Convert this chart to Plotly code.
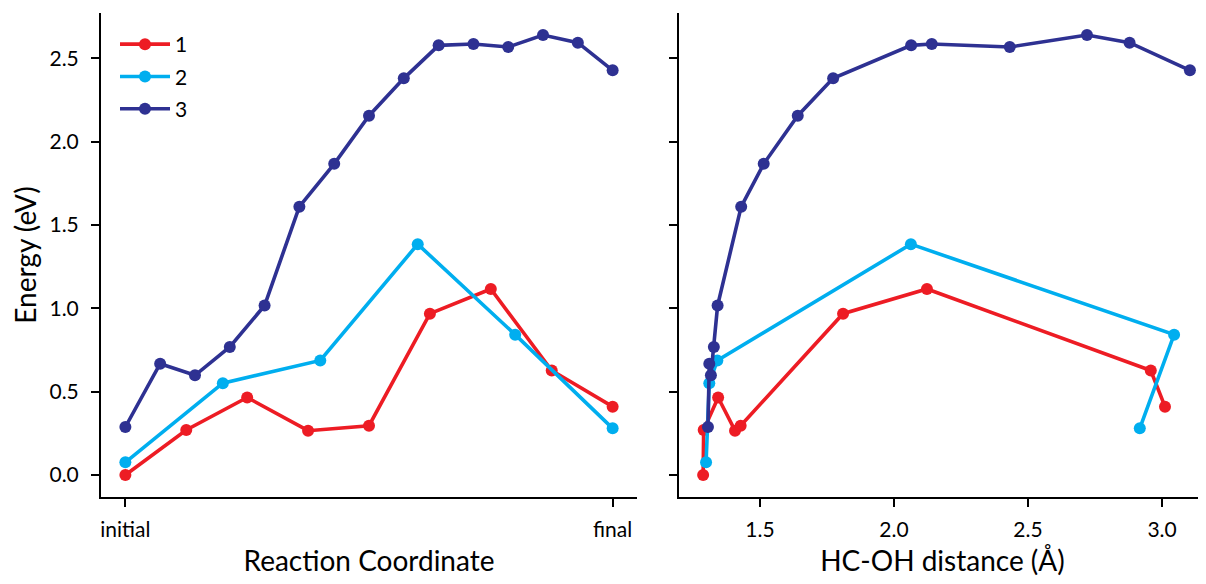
import plotly.graph_objects as go

# ---- data ----
names = ["1", "2", "3"]
colors = ["#ED1C24", "#00AEEF", "#2E3192"]

# Reaction coordinate (0 = initial, 1 = final)
rc1 = [0.0, 0.125, 0.25, 0.375, 0.5, 0.625, 0.75, 0.875, 1.0]
rc2 = [0.0, 0.2, 0.4, 0.6, 0.8, 1.0]
rc3 = [0.0, 0.0714, 0.1429, 0.2143, 0.2857, 0.3571, 0.4286, 0.5,
       0.5714, 0.6429, 0.7143, 0.7857, 0.8571, 0.9286, 1.0]

# Energies (eV)
e1 = [0.0, 0.27, 0.465, 0.266, 0.296, 0.968, 1.116, 0.627, 0.41]
e2 = [0.076, 0.551, 0.687, 1.385, 0.842, 0.28]
e3 = [0.288, 0.668, 0.598, 0.768, 1.017, 1.61, 1.867, 2.156, 2.38,
      2.578, 2.586, 2.568, 2.64, 2.594, 2.428]

# HC-OH distance (Angstrom)
d1 = [1.288, 1.29, 1.344, 1.407, 1.428, 1.81, 2.123, 2.958, 3.011]
d2 = [1.299, 1.311, 1.341, 2.063, 3.045, 2.917]
d3 = [1.306, 1.311, 1.317, 1.328, 1.342, 1.43, 1.514, 1.641, 1.773,
      2.064, 2.141, 2.432, 2.72, 2.879, 3.104]

rc_ticks = [0, 1]
rc_ticklabels = ["initial", "final"]
y_ticks = [0.0, 0.5, 1.0, 1.5, 2.0, 2.5]
y_ticklabels = ["0.0", "0.5", "1.0", "1.5", "2.0", "2.5"]
d_ticks = [1.5, 2.0, 2.5, 3.0]
d_ticklabels = ["1.5", "2.0", "2.5", "3.0"]

FONT = "Lato"
OFF = 8          # page body margin
FW, FH = 1198, 576


def px_x(p):
    return (p - OFF) / FW


def px_y(p):
    return (FH - (p - OFF)) / FH


fig = go.Figure()
left_x = [rc1, rc2, rc3]
right_x = [d1, d2, d3]
ys = [e1, e2, e3]
for i in range(3):
    fig.add_trace(go.Scatter(
        x=left_x[i], y=ys[i], mode="lines+markers", name=names[i],
        legendgroup=names[i],
        line=dict(color=colors[i], width=3.6),
        marker=dict(color=colors[i], size=12),
        xaxis="x", yaxis="y", showlegend=True, cliponaxis=False))
for i in range(3):
    fig.add_trace(go.Scatter(
        x=right_x[i], y=ys[i], mode="lines+markers", name=names[i],
        legendgroup=names[i],
        line=dict(color=colors[i], width=3.6),
        marker=dict(color=colors[i], size=12),
        xaxis="x2", yaxis="y2", showlegend=False, cliponaxis=False))

axis_common = dict(
    showgrid=False, zeroline=False, showline=True, linecolor="black",
    linewidth=2, ticks="outside", ticklen=8, tickwidth=2, tickcolor="black",
    tickfont=dict(family=FONT, size=21, color="black"), mirror=False,
)

fig.update_layout(
    width=FW, height=FH, autosize=False,
    margin=dict(l=0, r=0, t=0, b=0),
    paper_bgcolor="white", plot_bgcolor="white",
    font=dict(family=FONT, color="black"),
    xaxis=dict(axis_common, domain=[px_x(101), px_x(637)], range=[-0.05, 1.05],
               tickmode="array", tickvals=rc_ticks, ticktext=rc_ticklabels,
               title=dict(text="Reaction Coordinate",
                          font=dict(family=FONT, size=28), standoff=11),
               anchor="y", ticklabelstandoff=5),
    yaxis=dict(axis_common, domain=[px_y(497), px_y(13)],
               range=[-0.132, 2.772], tickmode="array", tickvals=y_ticks,
               ticktext=y_ticklabels,
               title=dict(text="Energy (eV)",
                          font=dict(family=FONT, size=28), standoff=11),
               anchor="x", ticklabelstandoff=8),
    xaxis2=dict(axis_common, domain=[px_x(679), px_x(1206)], range=[1.198, 3.164],
                tickmode="array", tickvals=d_ticks, ticktext=d_ticklabels,
                title=dict(text="HC-OH distance (Å)",
                           font=dict(family=FONT, size=28), standoff=11),
                anchor="y2", ticklabelstandoff=5),
    yaxis2=dict(axis_common, domain=[px_y(497), px_y(13)],
                range=[-0.132, 2.772], tickmode="array", tickvals=y_ticks,
                showticklabels=False, anchor="x2", matches="y"),
    legend=dict(x=px_x(115), y=px_y(24), xanchor="left", yanchor="top",
                bgcolor="rgba(0,0,0,0)", font=dict(family=FONT, size=21),
                traceorder="grouped", tracegroupgap=2, itemwidth=50),
)

fig.write_html("out.html")
